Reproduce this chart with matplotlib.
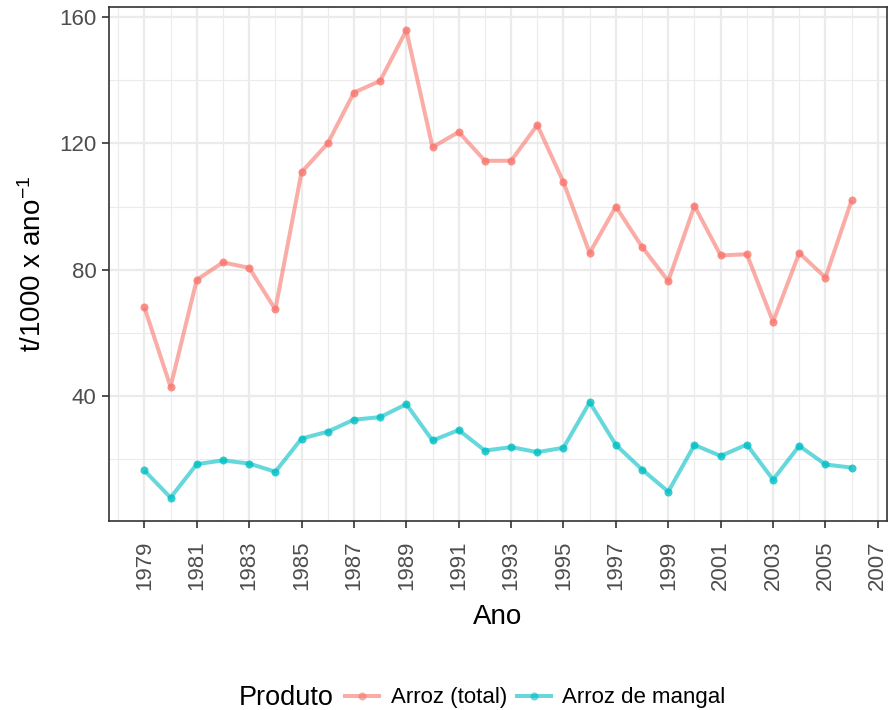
import matplotlib
matplotlib.use("Agg")
import matplotlib.pyplot as plt
from matplotlib.lines import Line2D
import numpy as np

plt.rcParams['font.family'] = ['Liberation Sans', 'DejaVu Sans']
plt.rcParams['mathtext.default'] = 'regular'

years = list(range(1979, 2007))
arroz_total = [68.1, 42.9, 76.8, 82.3, 80.6, 67.4, 110.9, 120.0, 136.1, 139.8,
               155.8, 118.8, 123.6, 114.5, 114.5, 125.8, 107.7, 85.3, 100.0, 87.2,
               76.4, 100.2, 84.5, 84.9, 63.5, 85.3, 77.5, 102.0]
arroz_mangal = [16.4, 7.8, 18.4, 19.6, 18.6, 16.0, 26.5, 28.7, 32.5, 33.3,
                37.4, 25.9, 29.2, 22.7, 23.8, 22.2, 23.6, 38.0, 24.5, 16.7,
                9.7, 24.5, 21.0, 24.6, 13.5, 24.2, 18.3, 17.3]
series_names = ["Arroz (total)", "Arroz de mangal"]
colors = ["#F8766D", "#00BFC4"]
x_ticks = list(range(1979, 2008, 2))
y_ticks = [40, 80, 120, 160]

fig = plt.figure(figsize=(8.89, 7.10), dpi=100)
ax = fig.add_axes([109/889, 1-521/710, (887-109)/889, (521-7)/710])

for vals, c in zip([arroz_total, arroz_mangal], colors):
    ax.plot(years, vals, color=c, lw=2.9, alpha=0.6, solid_capstyle='butt', zorder=3)
    ax.plot(years, vals, 'o', color=c, ms=5.8, alpha=0.8, mec='none', zorder=4)

allv = arroz_total + arroz_mangal
ymin, ymax = min(allv), max(allv)
yr = ymax - ymin
ax.set_ylim(ymin - 0.05*yr, ymax + 0.05*yr)
ax.set_xlim(years[0] - 0.05*(years[-1]-years[0]), years[-1] + 0.05*(years[-1]-years[0]))

ax.set_xticks(x_ticks)
ax.set_xticks(list(range(1978, 2008, 2)), minor=True)
ax.set_yticks(y_ticks)
ax.set_yticks([20, 60, 100, 140], minor=True)
ax.set_xticklabels([str(t) for t in x_ticks], rotation=90)
ax.grid(True, which='major', color='#EBEBEB', lw=1.6, zorder=0)
ax.grid(True, which='minor', color='#EBEBEB', lw=0.8, zorder=0)
ax.set_axisbelow(True)
ax.tick_params(which='major', length=5, width=1.2, color='#333333',
               labelcolor='#4D4D4D', labelsize=16, pad=4)
ax.tick_params(axis='x', which='major', pad=9)
ax.tick_params(which='minor', length=0)
for s in ax.spines.values():
    s.set_color('#333333')
    s.set_linewidth(1.2)

ax.set_xlabel("Ano", fontsize=20, labelpad=10)
ax.set_ylabel(r"t/1000 x ano$^{-1}$", fontsize=20, labelpad=9)

handles = [Line2D([], [], color=c, lw=2.9, alpha=0.6, marker='o', ms=5.8,
                  mfc=c, mec='none') for c in colors]
fig.text(239/889, 1-698/710, "Produto", fontsize=19.5, va='center', ha='left')
fig.legend(handles, series_names, loc='center left', ncol=2,
           bbox_to_anchor=(345/889, 1-698/710), frameon=False, fontsize=16,
           handlelength=1.55, handletextpad=0.5, columnspacing=0.45,
           borderaxespad=0, borderpad=0)

fig.savefig("out.png", dpi=100)
